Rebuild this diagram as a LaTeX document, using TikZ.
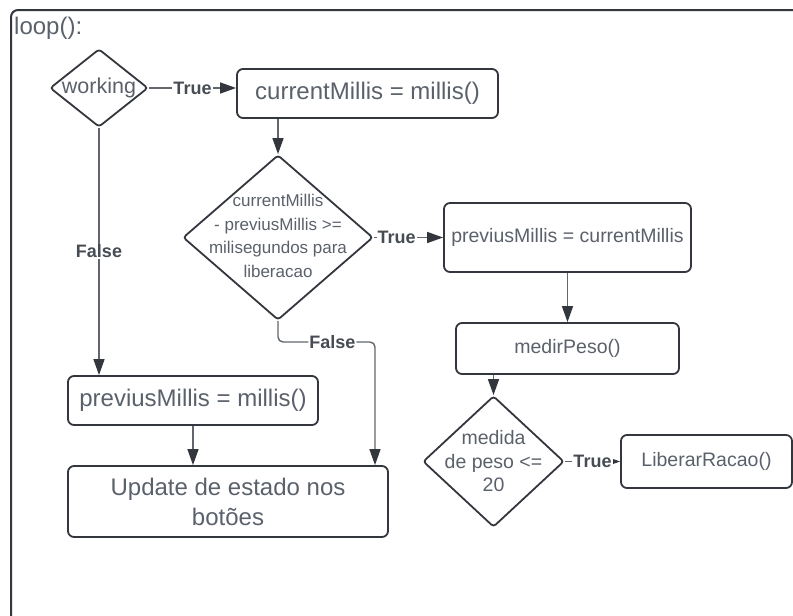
\documentclass[tikz,border=0pt]{standalone}
\usepackage{fontspec}
\setmainfont{Liberation Sans}
\usetikzlibrary{shapes.geometric,arrows.meta}
\definecolor{linec}{HTML}{33373D}
\definecolor{connc}{HTML}{62676E}
\definecolor{textc}{HTML}{5B616B}
\definecolor{labc}{HTML}{474C54}
\begin{document}
\begin{tikzpicture}[x=1pt,y=-1pt,
  boxnode/.style={draw=linec, line width=1.8pt, rounded corners=6pt, rectangle, inner sep=0pt, text=textc, align=center},
  dia/.style={draw=linec, line width=1.8pt, diamond, rounded corners=3pt, inner sep=0pt},
  diatext/.style={text=textc, align=center, inner sep=0pt},
  conn/.style={draw=connc, line width=1.4pt, -{Triangle[length=16pt,width=11pt,color=linec]}},
  lab/.style={fill=white, text=labc, inner sep=1pt, font=\bfseries\fontsize{18}{20}\selectfont},
  bigf/.style={font=\fontsize{24}{30}\selectfont},
  midf/.style={font=\fontsize{19.5}{23.5}\selectfont}]
\useasboundingbox (0,0) rectangle (793,616);
\fill[white] (0,0) rectangle (793,616);
% frame
\draw[draw=linec, line width=2pt, rounded corners=7pt] (11,10) rectangle (840,660);
\node[anchor=west, inner sep=0pt, text=textc, font=\fontsize{24}{28}\selectfont] (title) at (14,28) {loop():};
% diamonds
\node[dia, minimum width=98pt, minimum height=78pt] (d1) at (99,88) {};
\node[diatext, font=\fontsize{21.5}{24}\selectfont] (t1) at (d1) {working};
\node[dia, minimum width=190pt, minimum height=165pt] (d2) at (278,237.5) {};
\node[diatext, font=\fontsize{17}{23.5}\selectfont] (t2) at (278,236) {currentMillis\\- previusMillis >=\\milisegundos para\\liberacao};
\node[dia, minimum width=141pt, minimum height=131pt] (d3) at (493.5,461.5) {};
\node[diatext, midf] (t3) at (d3) {medida\\de peso <=\\20};
% boxes
\node[boxnode, bigf, minimum width=261pt, minimum height=49pt] (b1) at (367.5,93.5) {currentMillis = millis()};
\node[boxnode, midf, minimum width=247pt, minimum height=69pt] (b2) at (567.5,237.5) {previusMillis = currentMillis};
\node[boxnode, midf, minimum width=223pt, minimum height=51pt] (b3) at (567.5,348.5) {medirPeso()};
\node[boxnode, midf, minimum width=171pt, minimum height=53pt] (b4) at (706.5,461.5) {LiberarRacao()};
\node[boxnode, bigf, minimum width=250pt, minimum height=49pt] (b5) at (193,400.5) {previusMillis = millis()};
\node[boxnode, bigf, minimum width=320pt, minimum height=71pt] (b6) at (228,501.5) {Update de estado nos\\botões};
% connectors
\draw[conn] (d1.east) -- node[lab] {True} (d1.east -| b1.west);
\draw[conn] (b1.south -| d2.north) -- (d2.north);
\draw[conn] (d2.east) -- node[lab, pos=0.33] {True} (b2.west);
\draw[conn] (b2.south) -- (b3.north);
\draw[conn] (b3.south -| d3.north) -- (d3.north);
\draw[conn] (d3.east) -- node[lab] {True} (b4.west);
\draw[conn] (d1.south) -- node[lab] {False} (d1.south |- b5.north);
\draw[conn] (b5.south) -- (b5.south |- b6.north);
\coordinate (fc) at (375,342);
\draw[conn, rounded corners=5pt] (d2.south) -- (d2.south |- fc) -- node[lab, pos=0.56] {False} (fc) -- (fc |- b6.north);
\end{tikzpicture}
\end{document}
